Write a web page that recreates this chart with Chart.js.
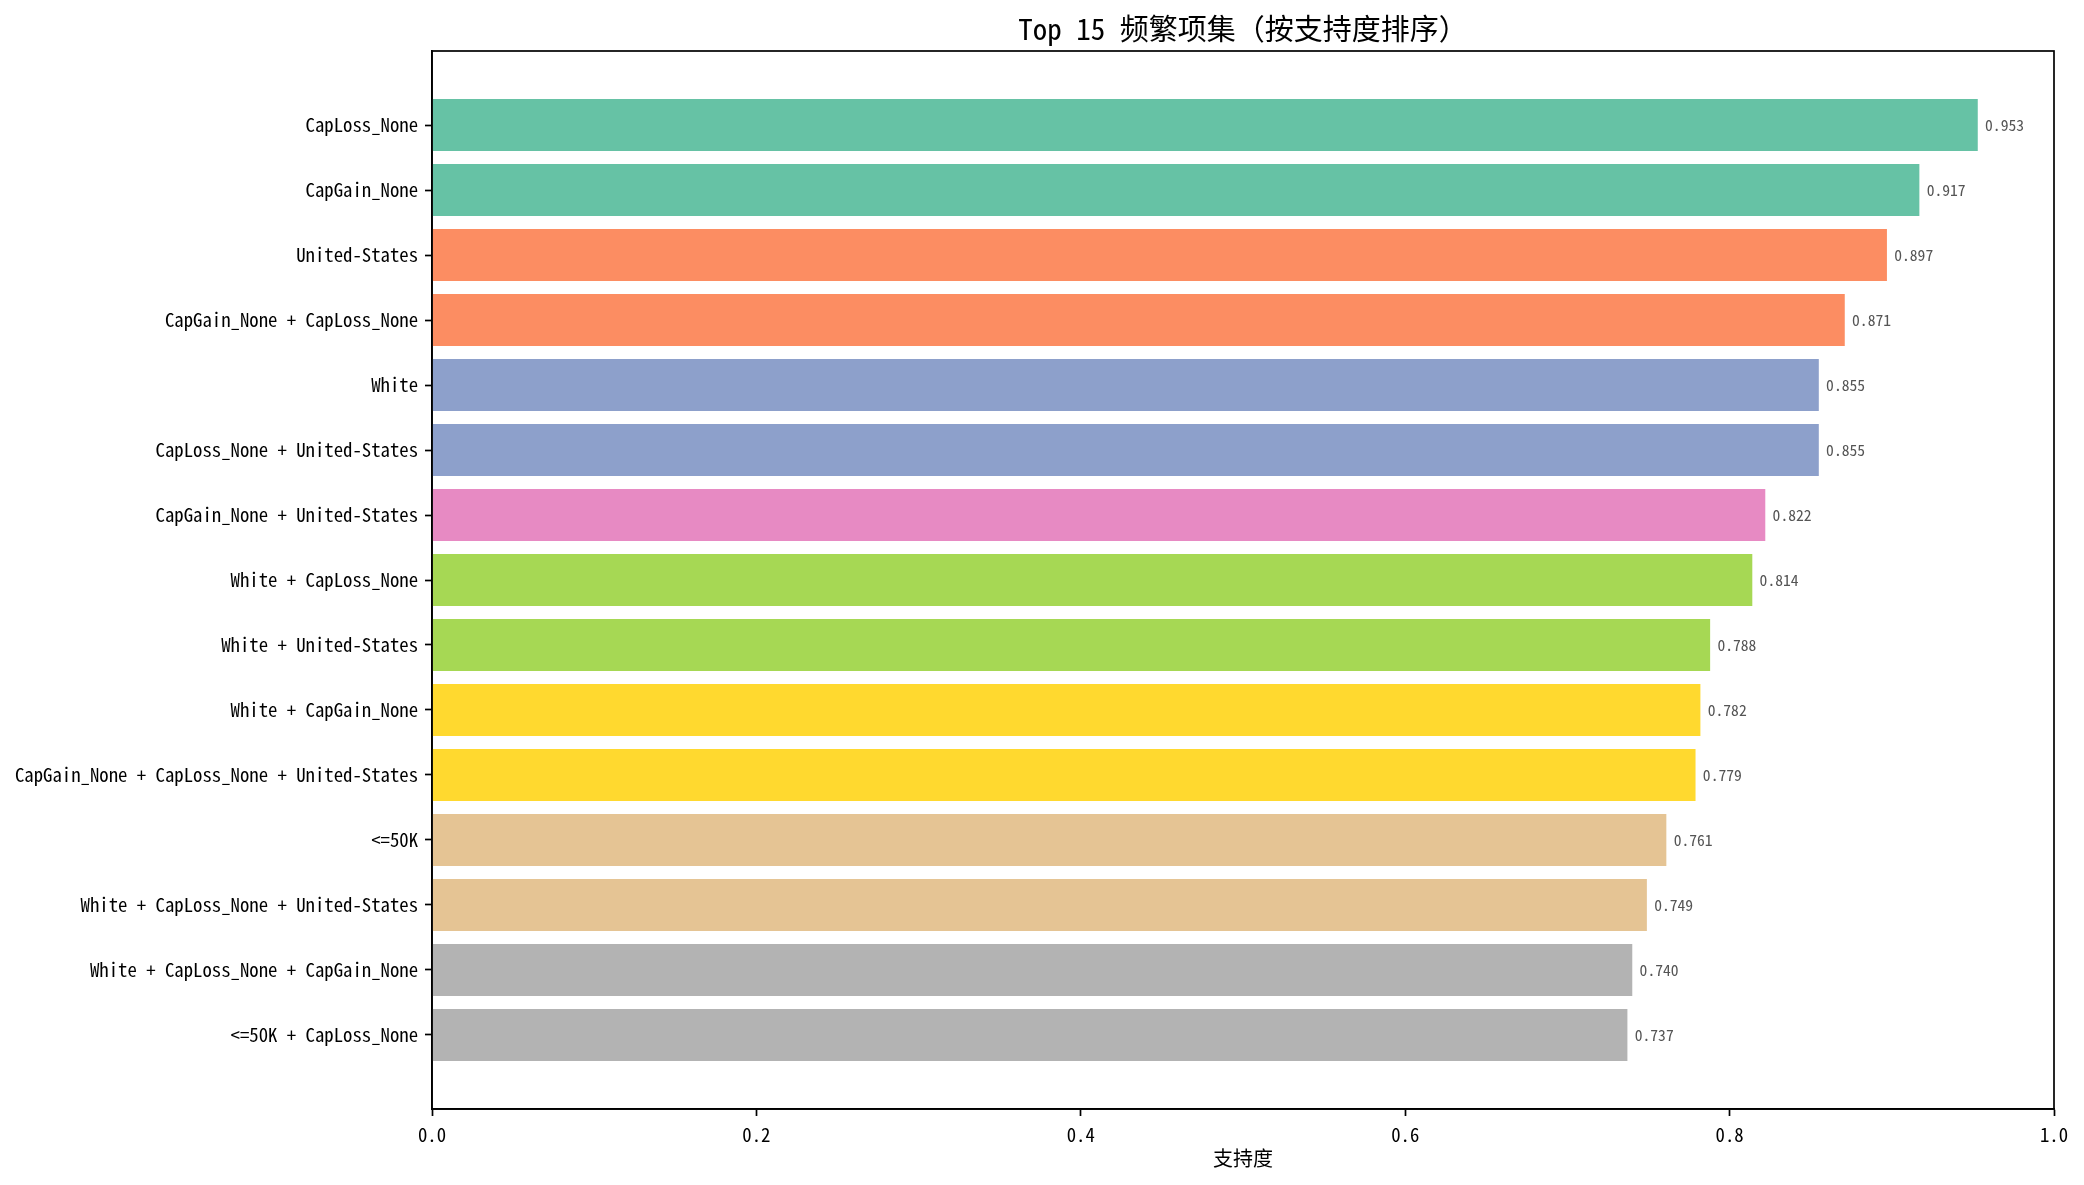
<!DOCTYPE html>
<html>
<head>
<meta charset="utf-8">
<script src="https://cdn.jsdelivr.net/npm/chart.js@4.4.1/dist/chart.umd.min.js"></script>
<style>
  body { margin: 0; background: #fff; }
  #wrap { width: 2084px; height: 1185px; }
</style>
</head>
<body>
<div id="wrap"><canvas id="itemsetChart" width="2084" height="1185"></canvas></div>
<script>
// itemsets, top to bottom
var itemLabels = [
    "CapLoss_None",
    "CapGain_None",
    "United-States",
    "CapGain_None + CapLoss_None",
    "White",
    "CapLoss_None + United-States",
    "CapGain_None + United-States",
    "White + CapLoss_None",
    "White + United-States",
    "White + CapGain_None",
    "CapGain_None + CapLoss_None + United-States",
    "<=50K",
    "White + CapLoss_None + United-States",
    "White + CapLoss_None + CapGain_None",
    "<=50K + CapLoss_None"
];
var supportValues = [0.953, 0.917, 0.897, 0.871, 0.855, 0.855, 0.822, 0.814,
                     0.788, 0.782, 0.779, 0.761, 0.749, 0.740, 0.737];
var barColors = ["#66c2a5", "#66c2a5", "#fc8d62", "#fc8d62", "#8da0cb", "#8da0cb",
                 "#e78ac3", "#a6d854", "#a6d854", "#ffd92f", "#ffd92f",
                 "#e5c494", "#e5c494", "#b3b3b3", "#b3b3b3"];
var xTicks = [0.0, 0.2, 0.4, 0.6, 0.8, 1.0];
var chartTitle = "Top 15 频繁项集（按支持度排序）";
var xTitle = "支持度";

var FONT = '"Noto Sans Mono CJK SC", "Noto Sans CJK SC", "Liberation Mono", monospace';

var points = supportValues.map(function(v, i) { return { x: v, y: i }; });

// frame, title and value labels
var extras = {
    id: "extras",
    afterDraw: function(chart) {
        var ctx = chart.ctx;
        var a = chart.chartArea;
        var xs = chart.scales.x;
        var ys = chart.scales.y;
        ctx.save();
        ctx.strokeStyle = "#000";
        ctx.lineWidth = 1.7;
        ctx.strokeRect(a.left, a.top, a.right - a.left, a.bottom - a.top);

        ctx.fillStyle = "#000";
        ctx.font = "29px " + FONT;
        ctx.textAlign = "center";
        ctx.textBaseline = "middle";
        ctx.fillText(chartTitle, (a.left + a.right) / 2, 29);

        ctx.fillStyle = "#555";
        ctx.font = "15.6px " + FONT;
        ctx.textAlign = "left";
        for (var i = 0; i < supportValues.length; i++) {
            ctx.fillText(supportValues[i].toFixed(3),
                xs.getPixelForValue(supportValues[i] + 0.0045),
                ys.getPixelForValue(i));
        }
        ctx.restore();
    }
};

new Chart(document.getElementById("itemsetChart"), {
    type: "bar",
    data: {
        datasets: [{
            data: points,
            backgroundColor: barColors,
            borderWidth: 0,
            barPercentage: 0.8,
            categoryPercentage: 1.0
        }]
    },
    options: {
        indexAxis: "y",
        responsive: false,
        devicePixelRatio: 1,
        animation: false,
        layout: { padding: { top: 51, right: 30, left: 0, bottom: 0 } },
        plugins: { legend: { display: false }, tooltip: { enabled: false } },
        scales: {
            x: {
                type: "linear",
                min: 0,
                max: 1,
                afterBuildTicks: function(scale) {
                    scale.ticks = xTicks.map(function(v) { return { value: v }; });
                },
                afterFit: function(scale) { scale.height = 76; },
                border: { display: true, color: "#000", width: 1.7 },
                grid: { drawOnChartArea: false, drawTicks: true, tickLength: 7, tickColor: "#000", tickWidth: 1.7 },
                ticks: {
                    color: "#000",
                    padding: 8,
                    font: { family: FONT, size: 18.75 },
                    callback: function(v) { return Number(v).toFixed(1); }
                },
                title: {
                    display: true,
                    text: xTitle,
                    color: "#000",
                    font: { family: FONT, size: 20 },
                    padding: { top: 2, bottom: 15 }
                }
            },
            y: {
                type: "linear",
                reverse: true,
                offset: false,
                min: -1.14,
                max: 15.14,
                afterBuildTicks: function(scale) {
                    scale.ticks = itemLabels.map(function(_, i) { return { value: i }; });
                },
                afterFit: function(scale) { scale.width = 432; },
                border: { display: true, color: "#000", width: 1.7 },
                grid: { offset: false, drawOnChartArea: false, drawTicks: true, tickLength: 7, tickColor: "#000", tickWidth: 1.7 },
                ticks: {
                    color: "#000",
                    padding: 7,
                    autoSkip: false,
                    font: { family: FONT, size: 18.75 },
                    callback: function(v) { return itemLabels[v]; }
                }
            }
        }
    },
    plugins: [extras]
});
</script>
</body>
</html>
